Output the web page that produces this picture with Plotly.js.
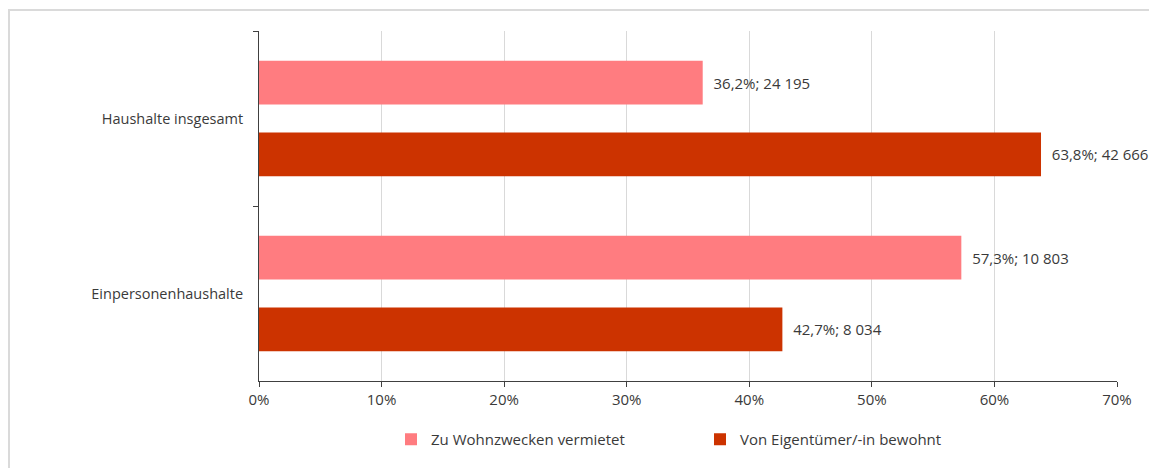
<!DOCTYPE html>
<html>
<head>
<meta charset="utf-8">
<script src="https://cdn.plot.ly/plotly-3.0.1.min.js"></script>
<style>
  html, body { margin: 0; padding: 0; background: #fff; overflow: hidden; }
  #wrap { position: relative; width: 1149px; height: 468px; }
  #frame { position: absolute; left: 8px; top: 9px; width: 1300px; height: 600px;
           border-left: 2px solid #dadada; border-top: 2px solid #dadada; pointer-events: none; z-index: 5; }
  #chart { position: absolute; left: 0; top: 0; width: 1149px; height: 468px; }
</style>
</head>
<body>
<div id="wrap">
  <div id="chart"></div>
  <div id="frame"></div>
</div>
<script>
const categories = ["Haushalte insgesamt", "Einpersonenhaushalte"];
const seriesNames = ["Zu Wohnzwecken vermietet", "Von Eigentümer/-in bewohnt"];
const rentedPct = [36.2, 57.3];
const rentedCount = [24195, 10803];
const ownerPct = [63.8, 42.7];
const ownerCount = [42666, 8034];
const xTickVals = [0, 10, 20, 30, 40, 50, 60, 70];
const xTickText = ["0%", "10%", "20%", "30%", "40%", "50%", "60%", "70%"];
const colors = ["#ff7c80", "#cc3300"];

function fmtCount(n) {
  return String(n).replace(/\B(?=(\d{3})+(?!\d))/g, " ");
}
function fmtLabel(p, n) {
  return "\u00a0\u00a0" + p.toFixed(1).replace(".", ",") + "%; " + fmtCount(n);
}

const family = "Open Sans, Noto Sans, sans-serif";
const textColor = "#3a3a3a";
const font = { family: family, size: 15, color: textColor };
const catFont = { family: family, size: 14.5, color: textColor };

const traces = [
  { name: seriesNames[0], pct: rentedPct, cnt: rentedCount, color: colors[0] },
  { name: seriesNames[1], pct: ownerPct, cnt: ownerCount, color: colors[1] }
].map(s => ({
  type: "bar",
  orientation: "h",
  name: s.name,
  y: categories,
  x: s.pct,
  text: s.pct.map((p, i) => fmtLabel(p, s.cnt[i])),
  textposition: "outside",
  textfont: font,
  cliponaxis: false,
  marker: { color: s.color, line: { width: 0 } },
  hoverinfo: "skip"
}));

const layout = {
  width: 1149,
  height: 468,
  margin: { l: 259, r: 32, t: 31, b: 87 },
  paper_bgcolor: "rgba(0,0,0,0)",
  plot_bgcolor: "rgba(0,0,0,0)",
  font: font,
  barmode: "group",
  bargap: 0.18,
  bargroupgap: 0.39,
  showlegend: true,
  legend: {
    orientation: "h",
    x: 0.514, xanchor: "center",
    y: -0.12, yanchor: "top",
    font: font,
    entrywidth: 264,
    entrywidthmode: "pixels",
    traceorder: "normal"
  },
  xaxis: {
    range: [0, 70],
    tickvals: xTickVals,
    ticktext: xTickText,
    showgrid: true,
    gridcolor: "#d9d9d9",
    gridwidth: 1,
    zeroline: false,
    showline: true,
    linecolor: "#404040",
    linewidth: 1,
    ticks: "outside",
    ticklen: 5,
    tickcolor: "#404040",
    tickfont: font,
    fixedrange: true
  },
  yaxis: {
    autorange: "reversed",
    type: "category",
    showgrid: false,
    zeroline: false,
    showline: true,
    linecolor: "#404040",
    linewidth: 1,
    ticks: "outside",
    tickson: "boundaries",
    ticklen: 5,
    tickcolor: "#404040",
    tickfont: catFont,
    ticklabelstandoff: 12,
    fixedrange: true
  }
};

Plotly.newPlot("chart", traces, layout, { displayModeBar: false, staticPlot: true });
</script>
</body>
</html>
